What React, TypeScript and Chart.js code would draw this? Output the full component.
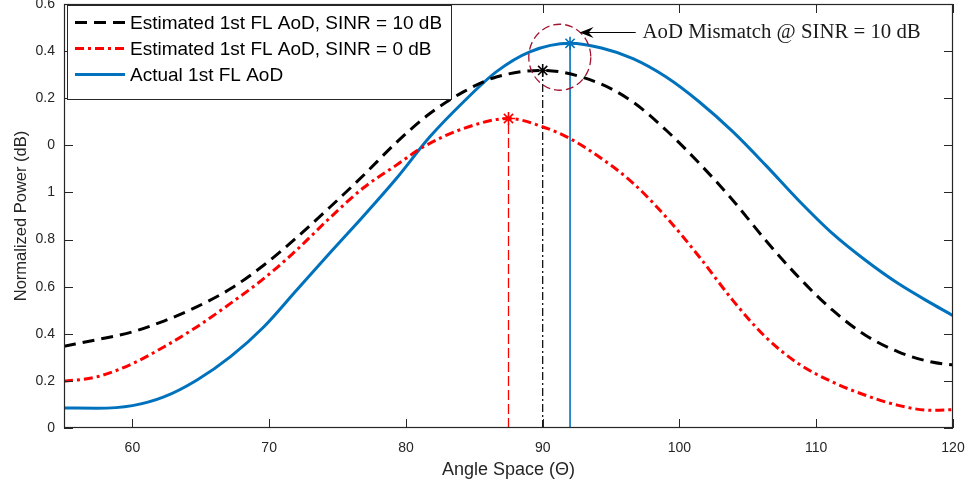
import React, { useEffect, useRef } from "react";
import { Chart, registerables } from "chart.js";

Chart.register(...registerables);

// ---- data (angle in degrees, normalized power) ----
const EST_10DB_X = [55, 57.4, 60, 62.3, 64.7, 67.2, 69.6, 72.0, 74.4, 76.9, 79.3, 81.75, 84.2, 86.6, 90, 93.9, 96.6, 99.03, 101.46, 103.9, 106.3, 108.7, 111.2, 113.6, 116, 118.45, 120];
const EST_10DB_Y = [0.347, 0.375, 0.408, 0.454, 0.514, 0.592, 0.691, 0.808, 0.935, 1.073, 1.212, 1.335, 1.427, 1.49, 1.518, 1.469, 1.384, 1.264, 1.123, 0.967, 0.797, 0.641, 0.5, 0.394, 0.323, 0.28, 0.268];

const EST_0DB_X = [55, 57.4, 60, 62.3, 64.7, 67.2, 69.6, 72.0, 74.4, 76.9, 79.3, 81.26, 84.2, 87.5, 90.03, 91.98, 94.3, 96.6, 99.03, 101.46, 103.9, 106.3, 108.7, 111.2, 113.6, 116, 118.45, 120];
const EST_0DB_Y = [0.198, 0.217, 0.273, 0.344, 0.429, 0.53, 0.634, 0.755, 0.89, 1.02, 1.116, 1.193, 1.271, 1.314, 1.278, 1.229, 1.144, 1.04, 0.895, 0.726, 0.542, 0.386, 0.273, 0.195, 0.139, 0.096, 0.075, 0.078];

const ACTUAL_X = [55, 57.4, 60, 62.3, 64.7, 67.2, 69.6, 72.0, 74.5, 76.9, 79.3, 81.75, 84.2, 86.6, 89.06, 92, 94.3, 96.6, 99.03, 101.46, 103.9, 106.3, 108.7, 111.2, 113.6, 116, 118.45, 120];
const ACTUAL_Y = [0.085, 0.084, 0.095, 0.132, 0.203, 0.304, 0.429, 0.585, 0.747, 0.9, 1.059, 1.236, 1.384, 1.512, 1.597, 1.633, 1.613, 1.568, 1.49, 1.384, 1.258, 1.116, 0.967, 0.825, 0.712, 0.613, 0.528, 0.477];

const SERIES_LABELS = [
  "Estimated 1st FL AoD, SINR = 10 dB",
  "Estimated 1st FL AoD, SINR = 0 dB",
  "Actual 1st FL AoD",
];
// peaks: [10 dB estimate, 0 dB estimate, actual]
const PEAK_X = [90, 87.5, 92];
const PEAK_Y = [1.518, 1.314, 1.633];

const X_TICKS = [60, 70, 80, 90, 100, 110, 120];
const Y_TICK_VALUES = [0, 0.2, 0.4, 0.6, 0.8, 1.0, 1.2, 1.4, 1.6, 1.8];
const Y_TICK_LABELS = ["0", "0.2", "0.4", "0.6", "0.8", "1", "0", "0.2", "0.4", "0.6"];

const ANNOT_TEXT = "AoD Mismatch @ SINR = 10 dB";
const CIRCLE_CENTER = { x: 91.25, y: 1.574 };
const ARROW_TIP = { x: 92.7, y: 1.679 };
const ARROW_TAIL = { x: 96.8, y: 1.679 };
const TEXT_POS = { x: 97.3, y: 1.679 };

// ---- styles ----
const BLACK = "#000000";
const RED = "#FF0000";
const BLUE = "#0072BD";
const CIRCLE_COLOR = "#A2142F";
const AXIS_COLOR = "#262626";
const SANS = "'Liberation Sans', Arial, Helvetica, sans-serif";
const SERIF = "'Liberation Serif', 'DejaVu Serif', serif";

const pts = (xs: number[], ys: number[]) => xs.map((x, i) => ({ x, y: ys[i] }));
const stem = (i: number) => [
  { x: PEAK_X[i], y: 0 },
  { x: PEAK_X[i], y: PEAK_Y[i] },
];

const framePlugin = {
  id: "frame",
  afterDatasetsDraw(chart: any) {
    const { ctx, chartArea: a, scales } = chart;
    const L = 9;
    ctx.save();
    ctx.strokeStyle = AXIS_COLOR;
    ctx.lineWidth = 1;
    ctx.setLineDash([]);
    ctx.beginPath();
    scales.x.ticks.forEach((t: any) => {
      const px = Math.round(scales.x.getPixelForValue(t.value)) + 0.5;
      ctx.moveTo(px, a.bottom);
      ctx.lineTo(px, a.bottom - L);
      ctx.moveTo(px, a.top);
      ctx.lineTo(px, a.top + L);
    });
    scales.y.ticks.forEach((t: any) => {
      const py = Math.round(scales.y.getPixelForValue(t.value)) + 0.5;
      ctx.moveTo(a.left, py);
      ctx.lineTo(a.left + L, py);
      ctx.moveTo(a.right, py);
      ctx.lineTo(a.right - L, py);
    });
    ctx.stroke();
    ctx.lineWidth = 1.2;
    ctx.strokeRect(Math.round(a.left) + 0.5, Math.round(a.top) + 0.5, Math.round(a.width) - 1, Math.round(a.height) - 1);
    ctx.restore();
  },
};

const annotationPlugin = {
  id: "annot",
  afterDatasetsDraw(chart: any) {
    const { ctx, scales } = chart;
    const sx = scales.x, sy = scales.y;
    ctx.save();
    const cx = sx.getPixelForValue(CIRCLE_CENTER.x);
    const cy = sy.getPixelForValue(CIRCLE_CENTER.y);
    ctx.strokeStyle = CIRCLE_COLOR;
    ctx.lineWidth = 1.3;
    ctx.setLineDash([8, 4]);
    ctx.beginPath();
    ctx.ellipse(cx, cy, 31, 33, 0, 0, Math.PI * 2);
    ctx.stroke();
    const tx = sx.getPixelForValue(ARROW_TIP.x);
    const ty = sy.getPixelForValue(ARROW_TIP.y);
    const ex = sx.getPixelForValue(ARROW_TAIL.x);
    ctx.setLineDash([]);
    ctx.strokeStyle = BLACK;
    ctx.fillStyle = BLACK;
    ctx.lineWidth = 1;
    ctx.beginPath();
    ctx.moveTo(tx + 8, ty);
    ctx.lineTo(ex, ty);
    ctx.stroke();
    ctx.beginPath();
    ctx.moveTo(tx, ty);
    ctx.lineTo(tx + 14, ty - 5.5);
    ctx.lineTo(tx + 9, ty);
    ctx.lineTo(tx + 14, ty + 5.5);
    ctx.closePath();
    ctx.fill();
    ctx.font = `20.8px ${SERIF}`;
    ctx.fillStyle = "#1a1a1a";
    ctx.textBaseline = "middle";
    ctx.textAlign = "left";
    ctx.fillText(ANNOT_TEXT, sx.getPixelForValue(TEXT_POS.x), sy.getPixelForValue(TEXT_POS.y));
    ctx.restore();
  },
};

const legendPlugin = {
  id: "boxLegend",
  afterDraw(chart: any) {
    const { ctx, chartArea: a } = chart;
    const x0 = a.left + 3, y0 = a.top + 1;
    const w = 384, h = 94;
    ctx.save();
    ctx.fillStyle = "#ffffff";
    ctx.fillRect(x0, y0, w, h);
    ctx.strokeStyle = AXIS_COLOR;
    ctx.lineWidth = 1;
    ctx.setLineDash([]);
    ctx.strokeRect(Math.round(x0) + 0.5, Math.round(y0) + 0.5, w, h);
    ctx.font = `19px ${SANS}`;
    ctx.textBaseline = "middle";
    ctx.textAlign = "left";
    for (let i = 0; i < 3; i++) {
      const ds = chart.data.datasets[i];
      const y = y0 + 17.5 + i * 26;
      ctx.strokeStyle = ds.borderColor;
      ctx.lineWidth = ds.borderWidth;
      ctx.setLineDash(ds.borderDash || []);
      ctx.beginPath();
      ctx.moveTo(x0 + 8, y);
      ctx.lineTo(x0 + 58, y);
      ctx.stroke();
      ctx.setLineDash([]);
      ctx.fillStyle = "#000";
      ctx.fillText(ds.label, x0 + 63, y + 1);
    }
    ctx.restore();
  },
};

export default function App() {
  const ref = useRef<HTMLCanvasElement | null>(null);
  useEffect(() => {
    if (!ref.current) return;
    const curve = (label: string, xs: number[], ys: number[], color: string, dash: number[]) => ({
      label,
      data: pts(xs, ys),
      borderColor: color,
      borderWidth: 3,
      borderDash: dash,
      pointRadius: 0,
      fill: false,
      cubicInterpolationMode: "monotone" as const,
    });
    const stemDs = (i: number, color: string, dash: number[], width: number) => ({
      label: "peak" + i,
      data: stem(i),
      borderColor: color,
      borderWidth: width,
      borderDash: dash,
      pointStyle: "star",
      pointRadius: [0, 6.5],
      pointBorderColor: color,
      pointBorderWidth: 1.6,
      pointBackgroundColor: color,
      fill: false,
    });
    const chart = new Chart(ref.current, {
      type: "line",
      data: {
        datasets: [
          curve(SERIES_LABELS[0], EST_10DB_X, EST_10DB_Y, BLACK, [12, 7]),
          curve(SERIES_LABELS[1], EST_0DB_X, EST_0DB_Y, RED, [9, 4, 3, 4]),
          curve(SERIES_LABELS[2], ACTUAL_X, ACTUAL_Y, BLUE, []),
          stemDs(0, BLACK, [8, 3, 2, 3], 1.2),
          stemDs(1, RED, [10, 4], 1.3),
          stemDs(2, BLUE, [], 1.6),
        ] as any,
      },
      options: {
        animation: false,
        responsive: true,
        maintainAspectRatio: false,
        layout: { autoPadding: false, padding: { top: 4, right: 20, bottom: 0, left: 0 } },
        plugins: { legend: { display: false }, tooltip: { enabled: false } },
        scales: {
          x: {
            type: "linear",
            min: 55,
            max: 120,
            grid: { display: false, drawTicks: false },
            border: { display: false },
            afterBuildTicks: (s: any) => {
              s.ticks = X_TICKS.map((v) => ({ value: v }));
            },
            afterFit: (s: any) => {
              s.height = 58;
              s.paddingLeft = 0;
              s.paddingRight = 0;
            },
            ticks: {
              padding: 12,
              color: AXIS_COLOR,
              font: { family: SANS, size: 14 },
              maxRotation: 0,
              callback: (v: any) => String(v),
            },
            title: {
              display: true,
              text: "Angle Space (\u0398)",
              color: AXIS_COLOR,
              font: { family: SANS, size: 18 },
              padding: { top: 0, bottom: 5 },
            },
          },
          y: {
            type: "linear",
            min: 0,
            max: 1.8,
            grid: { display: false, drawTicks: false },
            border: { display: false },
            afterBuildTicks: (s: any) => {
              s.ticks = Y_TICK_VALUES.map((v) => ({ value: v }));
            },
            afterFit: (s: any) => {
              s.width = 64;
              s.paddingTop = 0;
              s.paddingBottom = 0;
            },
            ticks: {
              padding: 9,
              color: AXIS_COLOR,
              font: { family: SANS, size: 14 },
              callback: (_v: any, i: number) => Y_TICK_LABELS[i],
            },
            title: {
              display: true,
              text: "Normalized Power (dB)",
              color: AXIS_COLOR,
              font: { family: SANS, size: 16.5 },
              padding: { top: 12, bottom: 0 },
            },
          },
        },
      },
      plugins: [framePlugin, annotationPlugin, legendPlugin],
    });
    return () => chart.destroy();
  }, []);
  return (
    <div style={{ position: "fixed", left: 0, top: 0, width: 973, height: 486, background: "#fff" }}>
      <canvas ref={ref} />
    </div>
  );
}
